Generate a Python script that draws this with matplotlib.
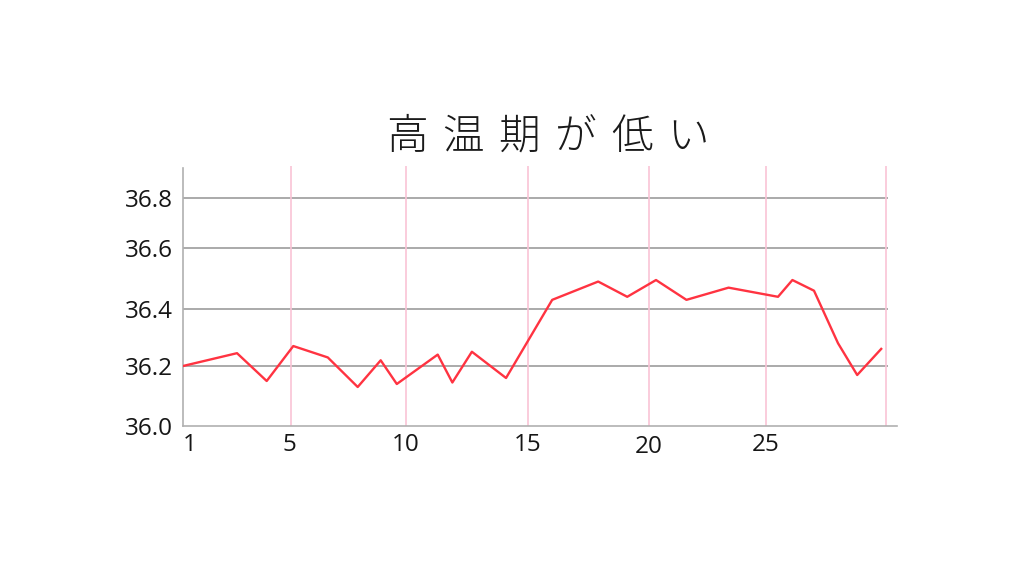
import numpy as np
import matplotlib
matplotlib.use("Agg")
import matplotlib.pyplot as plt
from matplotlib import transforms

plt.rcParams['font.family'] = ['Open Sans', 'DejaVu Sans']

# ---- data ----
title = "高温期が低い"
days = [1.0, 3.0, 4.1, 5.1, 6.6, 7.9, 8.9, 9.6, 11.3, 11.9, 12.7, 14.1,
        16.0, 17.9, 19.1, 20.3, 21.6, 23.4, 25.5, 26.1, 27.0, 28.0, 28.8, 29.8]
temps = [36.20, 36.245, 36.15, 36.27, 36.23, 36.13, 36.22, 36.14, 36.24, 36.145,
         36.25, 36.16, 36.43, 36.49, 36.44, 36.495, 36.43, 36.47, 36.44, 36.495,
         36.46, 36.28, 36.17, 36.26]
x_ticks = [1, 5, 10, 15, 20, 25]
x_tick_labels = ["1", "5", "10", "15", "20", "25"]
day_lines = [5, 10, 15, 20, 25, 30]
y_ticks = [36.0, 36.2, 36.4, 36.6, 36.8]
y_tick_labels = ["36.0", "36.2", "36.4", "36.6", "36.8"]

# ---- hand-drawn (non-uniform) axis spacing of the original ----
xk_data = [1, 5, 10, 15, 20, 25, 30, 30.46]
xk_pos = [183, 291, 406, 528, 649, 766, 886, 897]
yk_data = [36.0, 36.2, 36.4, 36.6, 36.8, 36.93]
yk_pos = [0, 60, 117, 178, 228, 260]

def xf(v):
    return np.interp(v, xk_data, xk_pos)
def xi(v):
    return np.interp(v, xk_pos, xk_data)
def yf(v):
    return np.interp(v, yk_data, yk_pos)
def yi(v):
    return np.interp(v, yk_pos, yk_data)

W, H = 1024, 576
fig = plt.figure(figsize=(W / 100, H / 100), dpi=100)
ax = fig.add_axes([183 / W, (H - 426) / H, (897 - 183) / W, (426 - 166) / H])
ax.set_xscale('function', functions=(xf, xi))
ax.set_yscale('function', functions=(yf, yi))
ax.set_xlim(1, 30.46)
ax.set_ylim(36.0, 36.93)

grid_col = '#9c9c9c'
pink = '#f9c3d6'
ax.hlines(y_ticks[1:], 1, 30.08, colors=grid_col, lw=1.2, zorder=1)
ax.vlines(day_lines, 36.0, 36.93, colors=pink, lw=1.2, zorder=1)
ax.plot(days, temps, color='#ff3341', lw=1.7, zorder=3)

for s in ['top', 'right']:
    ax.spines[s].set_visible(False)
for s in ['left', 'bottom']:
    ax.spines[s].set_color('#b0b0b0')
    ax.spines[s].set_linewidth(1.2)
ax.spines['left'].set_bounds(36.0, 36.92)

ax.set_xticks(x_ticks)
ax.set_xticklabels(x_tick_labels, fontsize=17.5, color='#161616')
ax.set_yticks(y_ticks)
ax.set_yticklabels(y_tick_labels, fontsize=17.5, color='#161616')
ax.tick_params(axis='both', length=0)
ax.tick_params(axis='x', pad=5)
ax.tick_params(axis='y', pad=7)
ax.minorticks_off()

# small hand-placed offsets of some tick labels
xlabels = ax.get_xticklabels()
offs = {"1": (7, 0), "5": (-2, 0), "20": (0, -2)}
for lab in xlabels:
    if lab.get_text() in offs:
        dx, dy = offs[lab.get_text()]
        lab.set_transform(lab.get_transform() +
                          transforms.ScaledTranslation(dx / 100, dy / 100, fig.dpi_scale_trans))

# title, one character at a time with wide spacing
x0, step = 406.5, 56.3
for i, ch in enumerate(title):
    fig.text((x0 + i * step) / W, 1 - 137 / H, ch, ha='center', va='center',
             fontsize=30, family=['Noto Sans CJK JP', 'DejaVu Sans'],
             fontweight='light', color='#1a1a1a')

fig.savefig('out.png', dpi=100, facecolor='white')
